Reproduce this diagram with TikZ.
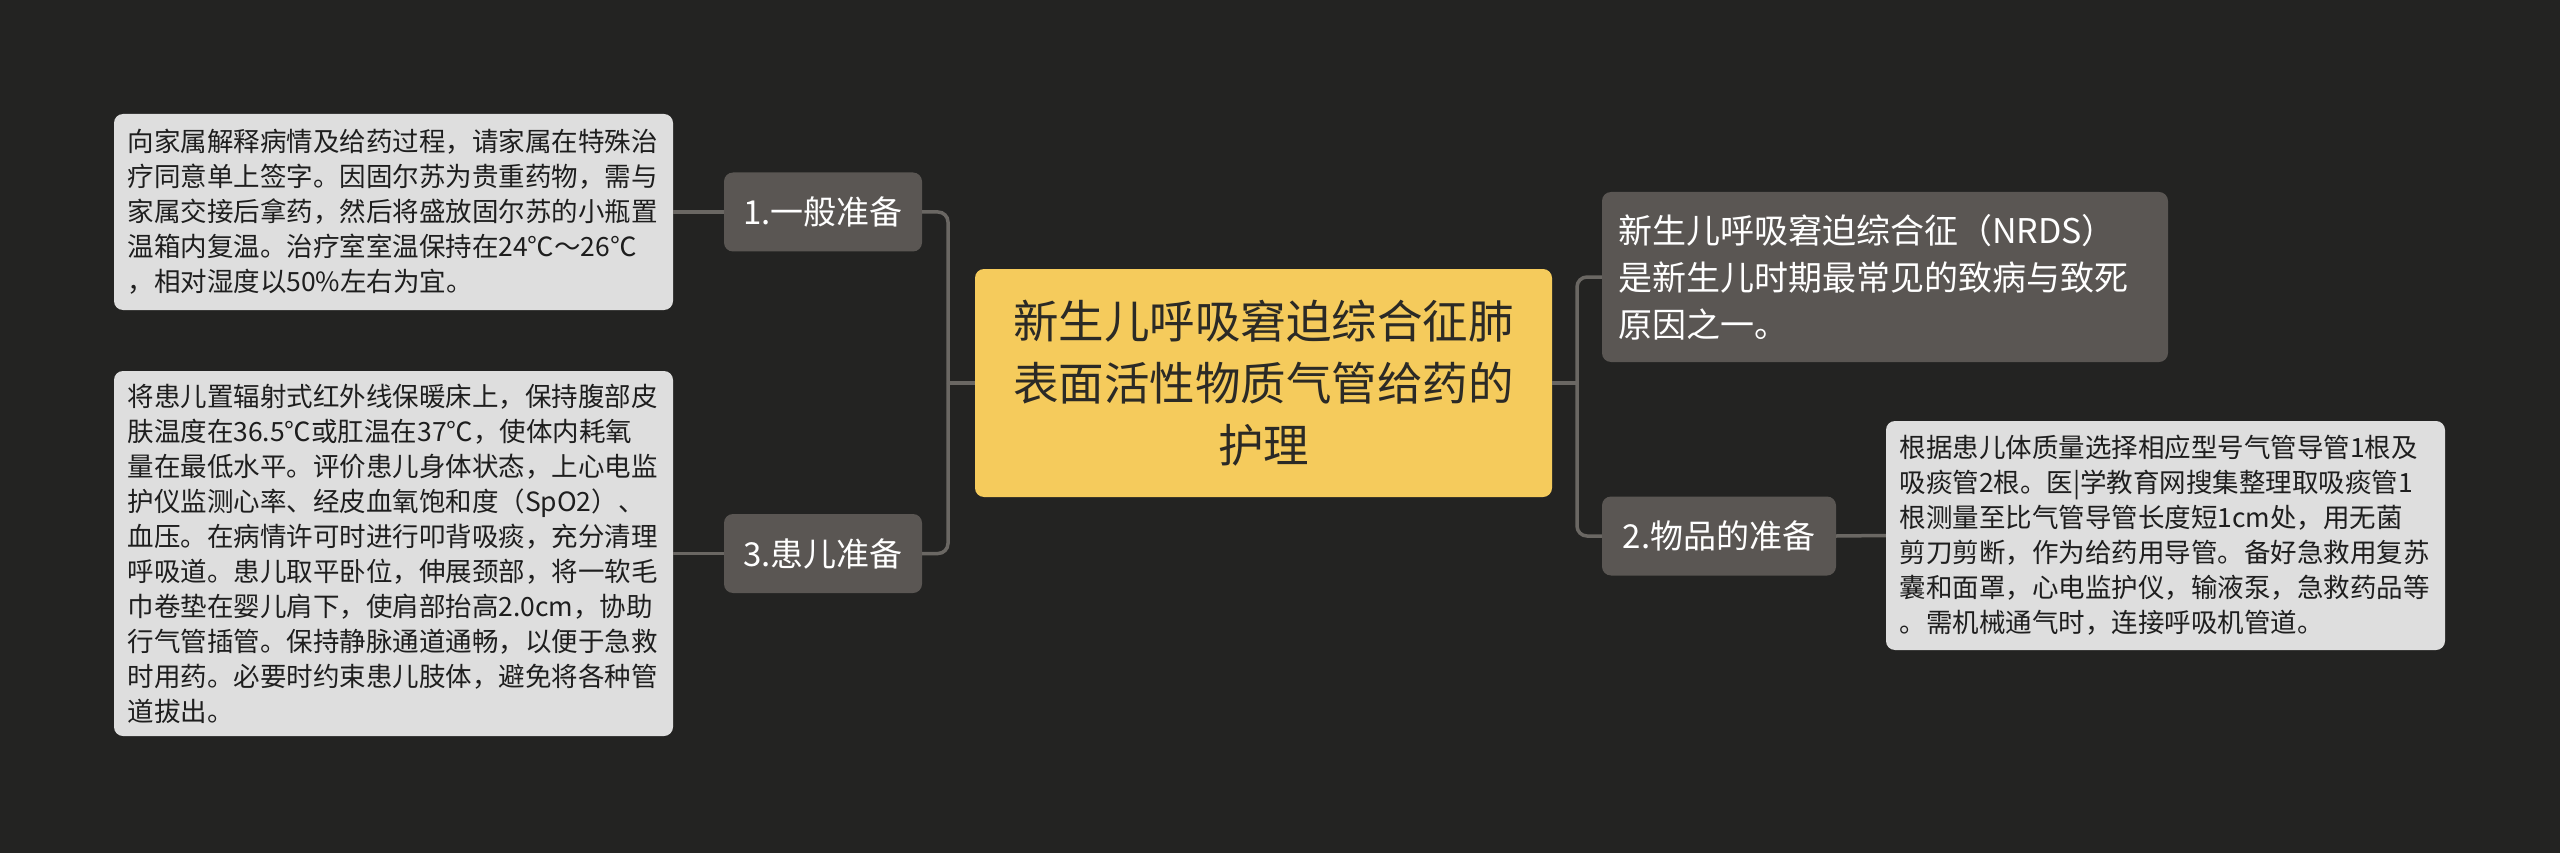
\documentclass[tikz,border=0pt]{standalone}
\usepackage{fontspec}
\setmainfont{Noto Sans CJK SC}
\definecolor{bgc}{HTML}{232322}
\definecolor{grayn}{HTML}{5A5653}
\definecolor{linec}{HTML}{6A6763}
\definecolor{lightb}{HTML}{DEDEDE}
\definecolor{centralc}{HTML}{F5CB5C}
\definecolor{ctext}{HTML}{2B2A26}
\definecolor{notetext}{HTML}{1E1E1E}
\begin{document}
\begin{tikzpicture}[x=1pt,y=-1pt,
  conn/.style={draw=linec, line width=3.5pt},
  topic/.style={fill=centralc, rounded corners=9pt, text=ctext, align=center, inner sep=0pt,
    minimum width=577pt, minimum height=228pt, font=\fontsize{45.5}{62}\selectfont},
  subn/.style={fill=grayn, rounded corners=9pt, text=white, inner sep=0pt,
    minimum height=79pt, font=\fontsize{33}{40}\selectfont},
  grayblock/.style={fill=grayn, rounded corners=9pt, text=white, align=left,
    text width=534pt, inner xsep=16pt, inner ysep=0pt, minimum height=170pt,
    font=\fontsize{34}{47}\selectfont},
  note/.style={fill=lightb, rounded corners=9pt, text=notetext, align=left,
    text width=532pt, inner xsep=13.5pt, inner ysep=0pt, font=\fontsize{26.5}{35}\selectfont}]
\fill[bgc] (0,0) rectangle (2560,853);
\useasboundingbox (0,0) rectangle (2560,853);

\node[topic] (c) at (1263.5,383) {新生儿呼吸窘迫综合征肺\\表面活性物质气管给药的\\护理};

\node[subn, minimum width=198pt] (n1) at (823,212) {1.一般准备};
\node[subn, minimum width=198pt] (n3) at (823,553.5) {3.患儿准备};
\node[subn, minimum width=234pt] (n2) at (1719,536) {2.物品的准备};

\node[grayblock] (nrds) at (1885,277) {新生儿呼吸窘迫综合征（NRDS）\\是新生儿时期最常见的致病与致死\\原因之一。};

\node[note, minimum height=196pt] (b1) at (393.5,212) {向家属解释病情及给药过程，请家属在特殊治\\疗同意单上签字。因固尔苏为贵重药物，需与\\家属交接后拿药，然后将盛放固尔苏的小瓶置\\温箱内复温。治疗室室温保持在24℃～26℃\\，相对湿度以50\%左右为宜。};

\node[note, minimum height=365pt] (b2) at (393.5,553.5) {将患儿置辐射式红外线保暖床上，保持腹部皮\\肤温度在36.5℃或肛温在37℃，使体内耗氧\\量在最低水平。评价患儿身体状态，上心电监\\护仪监测心率、经皮血氧饱和度（SpO2）、\\血压。在病情许可时进行叩背吸痰，充分清理\\呼吸道。患儿取平卧位，伸展颈部，将一软毛\\巾卷垫在婴儿肩下，使肩部抬高2.0cm，协助\\行气管插管。保持静脉通道通畅，以便于急救\\时用药。必要时约束患儿肢体，避免将各种管\\道拔出。};

\node[note, minimum height=229pt] (r) at (2165.5,535.5) {根据患儿体质量选择相应型号气管导管1根及\\吸痰管2根。医|学教育网搜集整理取吸痰管1\\根测量至比气管导管长度短1cm处，用无菌\\剪刀剪断，作为给药用导管。备好急救用复苏\\囊和面罩，心电监护仪，输液泵，急救药品等\\。需机械通气时，连接呼吸机管道。};

\coordinate (tl) at (948,383);
\coordinate (tr) at (1577,383);
\draw[conn] (c.west) -- (tl);
\draw[conn, rounded corners=10pt] (tl) |- (n1.east);
\draw[conn, rounded corners=10pt] (tl) |- (n3.east);
\draw[conn] (c.east) -- (tr);
\draw[conn, rounded corners=10pt] (tr) |- (nrds.west);
\draw[conn, rounded corners=10pt] (tr) |- (n2.west);
\draw[conn] (n1.west) -- (b1.east);
\draw[conn] (n3.west) -- (b2.east);
\draw[conn] (n2.east) -- (r.west);
\end{tikzpicture}
\end{document}
